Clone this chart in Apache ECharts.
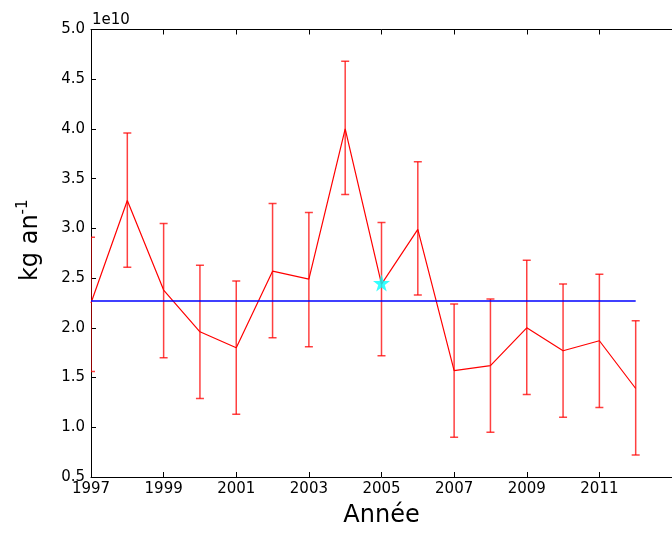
<!DOCTYPE html>
<html>
<head>
<meta charset="utf-8">
<script src="https://cdn.jsdelivr.net/npm/echarts@6/dist/echarts.min.js"></script>
<style>html,body{margin:0;padding:0;background:#fff;overflow:hidden}#c{width:672px;height:533px}</style>
</head>
<body>
<div id="c"></div>
<script>
// values in units of 1e10 kg/an
var years = [1997,1998,1999,2000,2001,2002,2003,2004,2005,2006,2007,2008,2009,2010,2011,2012];
var values = [2.25,3.28,2.38,1.96,1.80,2.57,2.49,4.00,2.44,2.99,1.57,1.62,2.00,1.77,1.87,1.39];
var errLow = [1.56,2.61,1.70,1.29,1.13,1.90,1.81,3.34,1.72,2.33,0.90,0.95,1.33,1.10,1.20,0.72];
var errHigh = [2.91,3.96,3.05,2.63,2.47,3.25,3.16,4.68,3.06,3.67,2.24,2.29,2.68,2.44,2.54,2.07];
var meanLine = [[1997,2.27],[2012,2.27]];
var starPoint = [[2005,2.45]];

var chart = echarts.init(document.getElementById('c'));
var font = 'DejaVu Sans';
var axisLine = {show: true, onZero: false, lineStyle: {color: '#000', width: 1}};
chart.setOption({
  animation: false,
  textStyle: {fontFamily: font},
  grid: {left: 91, top: 29.5, width: 586, height: 453.5},
  graphic: [{type: 'text', left: 92, top: 13, style: {text: '1e10', font: '15px "DejaVu Sans"', fill: '#000'}}],
  xAxis: [{
    type: 'value', min: 1997, max: 2013, interval: 2, position: 'bottom',
    axisLine: axisLine, splitLine: {show: false},
    axisTick: {inside: true, length: 5, lineStyle: {color: '#000'}},
    axisLabel: {color: '#000', fontSize: 15, fontFamily: font, margin: 5, showMaxLabel: false, formatter: function(v){return String(v);}},
    name: 'Année', nameLocation: 'middle', nameGap: 27,
    nameTextStyle: {color: '#000', fontSize: 24, fontFamily: font}
  }, {
    type: 'value', min: 1997, max: 2013, interval: 2, position: 'top',
    axisLine: axisLine, splitLine: {show: false},
    axisTick: {inside: true, length: 5, lineStyle: {color: '#000'}},
    axisLabel: {show: false}
  }],
  yAxis: [{
    type: 'value', min: 0.5, max: 5.0, interval: 0.5,
    axisLine: axisLine, splitLine: {show: false},
    axisTick: {inside: true, length: 5, lineStyle: {color: '#000'}},
    axisLabel: {color: '#000', fontSize: 15, fontFamily: font, margin: 6, formatter: function(v){return v.toFixed(1);}},
    name: 'kg an{sup|-1}', nameLocation: 'middle', nameGap: 46,
    nameTextStyle: {color: '#000', fontSize: 24, fontFamily: font, padding: [0,0,0,26],
      rich: {sup: {fontSize: 15, fontFamily: font, color: '#000', padding: [0,0,14,0]}}}
  }],
  series: [{
    type: 'custom',
    clip: true,
    data: years.map(function(y,i){return [y, errLow[i], errHigh[i]];}),
    renderItem: function(params, api){
      var lo = api.coord([api.value(0), api.value(1)]);
      var hi = api.coord([api.value(0), api.value(2)]);
      var st = {stroke: 'rgba(255,0,0,0.75)', lineWidth: 1.5};
      var cw = 4;
      return {type: 'group', children: [
        {type: 'line', shape: {x1: lo[0], y1: lo[1], x2: hi[0], y2: hi[1]}, style: st},
        {type: 'line', shape: {x1: hi[0]-cw, y1: hi[1], x2: hi[0]+cw, y2: hi[1]}, style: st},
        {type: 'line', shape: {x1: lo[0]-cw, y1: lo[1], x2: lo[0]+cw, y2: lo[1]}, style: st}
      ]};
    },
    z: 2
  }, {
    type: 'line',
    data: years.map(function(y,i){return [y, values[i]];}),
    showSymbol: false, symbol: 'none',
    lineStyle: {color: '#ff0000', width: 1.2},
    z: 3
  }, {
    type: 'line',
    data: meanLine,
    showSymbol: false, symbol: 'none',
    lineStyle: {color: '#0000ff', width: 1.5},
    z: 4
  }, {
    type: 'scatter',
    data: starPoint,
    symbol: 'path://M50,0 L61.8,35.1 L98.9,35.1 L68.9,56.9 L80.2,92.1 L50,70.4 L19.8,92.1 L31.1,56.9 L1.1,35.1 L38.2,35.1 Z',
    symbolSize: 17,
    itemStyle: {color: '#00ffff'},
    z: 5
  }]
});
</script>
</body>
</html>
